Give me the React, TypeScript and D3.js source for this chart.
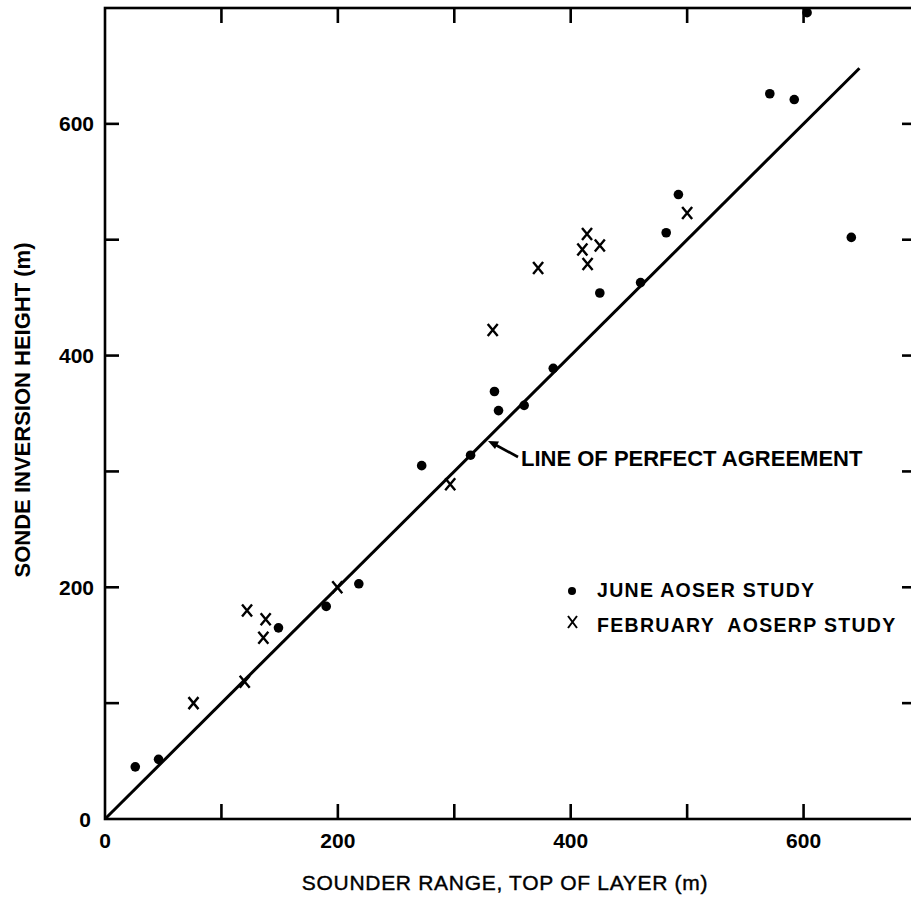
import React from "react";
import * as d3 from "d3";

// Sounder range vs. sonde inversion height (m)
const juneX = [26, 46, 149, 190, 218, 272, 314, 334.5, 338, 360, 385, 425, 460, 482, 492.5, 571, 592, 603, 641];
const juneY = [45, 51.5, 165, 183.5, 203, 305, 314, 369, 352.5, 357, 389, 454, 463, 506, 539, 626, 621, 696, 502];

const febX = [76, 120, 122, 136, 138, 199.5, 296.5, 333, 372, 410, 414, 414.5, 425, 500];
const febY = [100, 118.5, 180, 156.5, 172.5, 200, 289, 422, 475.5, 491.5, 505, 479, 495, 523];

const agreementLine: [number, number][] = [[0, 0], [648, 648]];

const xTickLabels = [0, 200, 400, 600];
const yTickLabels = [0, 200, 400, 600];
const minorTicks = [100, 200, 300, 400, 500, 600];

const W = 911;
const H = 900;
const FONT = "'Liberation Sans', Arial, Helvetica, sans-serif";

export default function App() {
  const x = d3.scaleLinear().domain([0, 700]).range([105, 920]);
  const y = d3.scaleLinear().domain([0, 700]).range([819, 8]);
  const line = d3
    .line<[number, number]>()
    .x((d) => x(d[0]))
    .y((d) => y(d[1]));

  const june = juneX.map((v, i) => [v, juneY[i]] as [number, number]);
  const feb = febX.map((v, i) => [v, febY[i]] as [number, number]);

  const tickLen = 15;
  const ink = "#000";

  return (
    <svg
      width={W}
      height={H}
      style={{ position: "absolute", left: 0, top: 0, background: "#fff" }}
      fontFamily={FONT}
    >
      <rect x={0} y={0} width={W} height={H} fill="#fff" />
      {/* frame */}
      <rect
        x={x(0)}
        y={y(700)}
        width={x(700) - x(0)}
        height={y(0) - y(700)}
        fill="none"
        stroke={ink}
        strokeWidth={2.6}
      />
      {/* inward ticks on all four sides */}
      {minorTicks.map((t) => (
        <g key={"t" + t} stroke={ink} strokeWidth={2.6}>
          <line x1={x(t)} x2={x(t)} y1={y(0)} y2={y(0) - tickLen} />
          <line x1={x(t)} x2={x(t)} y1={y(700)} y2={y(700) + tickLen} />
          <line x1={x(0)} x2={x(0) + tickLen - 1} y1={y(t)} y2={y(t)} />
          <line x1={x(700)} x2={x(700) - tickLen - 3} y1={y(t)} y2={y(t)} />
        </g>
      ))}
      {/* tick labels */}
      {xTickLabels.map((t) => (
        <text
          key={"xl" + t}
          x={x(t)}
          y={848}
          textAnchor="middle"
          fontSize={21}
          fontWeight="bold"
          fill={ink}
        >
          {t}
        </text>
      ))}
      {yTickLabels.map((t) => (
        <text
          key={"yl" + t}
          x={t === 0 ? 91 : 94}
          y={y(t) + 7.5}
          textAnchor="end"
          fontSize={21}
          fontWeight="bold"
          fill={ink}
        >
          {t}
        </text>
      ))}
      {/* axis titles */}
      <text
        x={505}
        y={890}
        textAnchor="middle"
        fontSize={21}
        letterSpacing={0.7}
        fill={ink}
        stroke={ink}
        strokeWidth={0.4}
      >
        SOUNDER RANGE, TOP OF LAYER (m)
      </text>
      <text
        transform={`translate(30,410) rotate(-90)`}
        textAnchor="middle"
        fontSize={22}
        fontWeight="bold"
        fill={ink}
      >
        SONDE INVERSION HEIGHT (m)
      </text>
      {/* line of perfect agreement */}
      <path d={line(agreementLine) ?? ""} fill="none" stroke={ink} strokeWidth={3} />
      {/* pointer to the line */}
      <line x1={518} y1={457} x2={494} y2={444} stroke={ink} strokeWidth={2.6} />
      <path d="M488,441 L499,441.5 L495,449 Z" fill={ink} />
      <text x={521} y={466} fontSize={22} fontWeight="bold" fill={ink}>
        LINE OF PERFECT AGREEMENT
      </text>
      {/* June study */}
      {june.map((d, i) => (
        <circle key={"j" + i} cx={x(d[0])} cy={y(d[1])} r={4.8} fill={ink} />
      ))}
      {/* February study */}
      {feb.map((d, i) => {
        const cx = x(d[0]);
        const cy = y(d[1]);
        return (
          <path
            key={"f" + i}
            d={`M${cx - 5},${cy - 6}L${cx + 5},${cy + 6}M${cx + 5},${cy - 6}L${cx - 5},${cy + 6}`}
            stroke={ink}
            strokeWidth={2.4}
            fill="none"
          />
        );
      })}
      {/* legend */}
      <circle cx={572} cy={591} r={4} fill={ink} />
      <text x={597} y={597} fontSize={19.5} fontWeight="bold" letterSpacing={1.3} fill={ink}>
        JUNE AOSER STUDY
      </text>
      <path
        d="M568,616L577,628M577,616L568,628"
        stroke={ink}
        strokeWidth={2}
        fill="none"
      />
      <text x={597} y={632} fontSize={19.5} fontWeight="bold" letterSpacing={1.3} fill={ink} xmlSpace="preserve">
        FEBRUARY  AOSERP STUDY
      </text>
    </svg>
  );
}
